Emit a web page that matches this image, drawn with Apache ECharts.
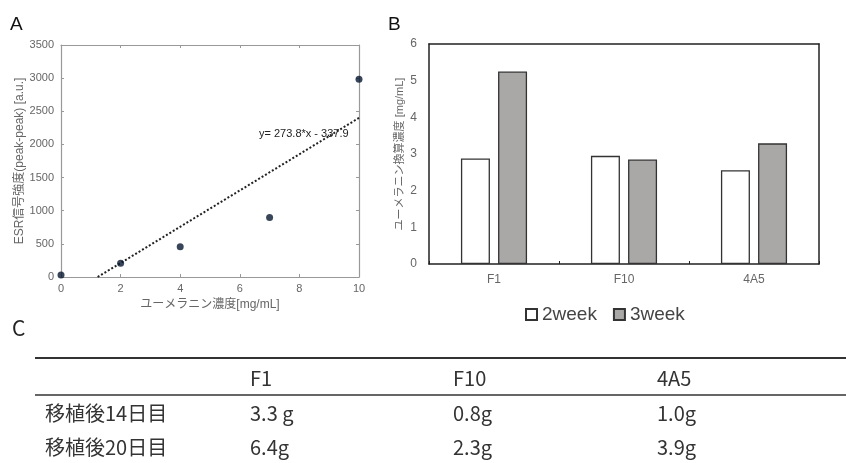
<!DOCTYPE html>
<html>
<head>
<meta charset="utf-8">
<script src="https://cdn.jsdelivr.net/npm/echarts@6/dist/echarts.min.js"></script>
<style>
  html, body { margin: 0; padding: 0; background: #fff; }
  #chart { width: 846px; height: 463px; }
</style>
</head>
<body>
<div id="chart"></div>
<script>
// ---- DATA ----
// A: ESR calibration
const concX = [0, 2, 4, 7, 10];
const esrY = [30, 206, 458, 896, 2985];
const trendX = [1.23, 10];
const trendY = [0, 2400];
const trendLabel = 'y= 273.8*x - 337.9';

// B: converted concentration
const strains = ['F1', 'F10', '4A5'];
const week2 = [2.88, 2.95, 2.56];
const week3 = [5.25, 2.85, 3.29];

// C: table
const tableCols = ['F1', 'F10', '4A5'];
const tableRows = ['移植後14日目', '移植後20日目'];
const tableVals = [
  ['3.3 g', '0.8g', '1.0g'],
  ['6.4g', '2.3g', '3.9g'],
];

// ---- STYLE ----
const FONT = '"Liberation Sans", "Noto Sans CJK JP", sans-serif';
const CJK = '"Noto Sans CJK JP", sans-serif';
const gray = '#666';
const frameA = '#999';
const plain = v => String(v);

const chart = echarts.init(document.getElementById('chart'), null, { renderer: 'canvas' });

// table graphics
const colX = [250, 453, 657];
const rowY = [413, 447];
const tableGraphics = [
  { type: 'line', shape: { x1: 35, y1: 358, x2: 846, y2: 358 }, style: { stroke: '#333', lineWidth: 2 } },
  { type: 'line', shape: { x1: 35, y1: 395, x2: 846, y2: 395 }, style: { stroke: '#333', lineWidth: 1.5 } },
];
tableCols.forEach((c, i) => {
  tableGraphics.push({ type: 'text', x: colX[i], y: 378,
    style: { text: c, font: '20px ' + CJK, fill: '#333', verticalAlign: 'middle' } });
});
tableRows.forEach((r, j) => {
  tableGraphics.push({ type: 'text', x: 45, y: rowY[j],
    style: { text: r, font: '20px ' + CJK, fill: '#333', verticalAlign: 'middle' } });
  tableVals[j].forEach((v, i) => {
    tableGraphics.push({ type: 'text', x: colX[i], y: rowY[j],
      style: { text: v, font: '20px ' + CJK, fill: '#333', verticalAlign: 'middle' } });
  });
});

const tickA = { show: true, inside: true, length: 3, lineStyle: { color: frameA } };
const lineA = { show: true, onZero: false, lineStyle: { color: frameA, width: 1.2 } };
const lineB = { show: true, onZero: false, lineStyle: { color: '#222', width: 1.5 } };

chart.setOption({
  animation: false,
  backgroundColor: '#fff',
  textStyle: { fontFamily: FONT },
  grid: [
    { left: 61, top: 45, width: 298, height: 232 },
    { left: 429, top: 44, width: 390, height: 220 },
  ],
  xAxis: [
    {
      gridIndex: 0, type: 'value', min: 0, max: 10, interval: 2,
      name: 'ユーメラニン濃度[mg/mL]', nameLocation: 'middle', nameGap: 16,
      nameTextStyle: { color: gray, fontSize: 12, fontFamily: FONT },
      axisLine: lineA, axisTick: tickA,
      axisLabel: { color: gray, fontSize: 11, margin: 6, formatter: plain },
      splitLine: { show: false },
    },
    {
      gridIndex: 0, type: 'value', min: 0, max: 10, interval: 2, position: 'top',
      axisLine: lineA, axisTick: tickA,
      axisLabel: { show: false }, splitLine: { show: false },
    },
    {
      gridIndex: 1, type: 'category', data: strains,
      axisLine: lineB,
      axisTick: { show: true, inside: true, length: 3, lineStyle: { color: '#222' } },
      axisLabel: { color: gray, fontSize: 12, margin: 10 },
    },
    {
      gridIndex: 1, type: 'category', data: strains, position: 'top',
      axisLine: lineB, axisTick: { show: false }, axisLabel: { show: false },
    },
  ],
  yAxis: [
    {
      gridIndex: 0, type: 'value', min: 0, max: 3500, interval: 500,
      name: 'ESR信号強度(peak-peak) [a.u.]', nameLocation: 'middle', nameGap: 25,
      nameTextStyle: { color: gray, fontSize: 12, fontFamily: FONT },
      axisLine: lineA, axisTick: tickA,
      axisLabel: { color: gray, fontSize: 11, margin: 7, formatter: plain },
      splitLine: { show: false },
    },
    {
      gridIndex: 0, type: 'value', min: 0, max: 3500, interval: 500, position: 'right',
      axisLine: lineA, axisTick: tickA,
      axisLabel: { show: false }, splitLine: { show: false },
    },
    {
      gridIndex: 1, type: 'value', min: 0, max: 6, interval: 1,
      name: 'ユーメラニン換算濃度 [mg/mL]', nameLocation: 'middle', nameGap: 24,
      nameTextStyle: { color: gray, fontSize: 11, fontFamily: FONT },
      axisLine: lineB, axisTick: { show: false },
      axisLabel: { color: gray, fontSize: 12, margin: 12 },
      splitLine: { show: false },
    },
    {
      gridIndex: 1, type: 'value', min: 0, max: 6, interval: 1, position: 'right',
      axisLine: lineB, axisTick: { show: false }, axisLabel: { show: false }, splitLine: { show: false },
    },
  ],
  legend: {
    left: 520, top: 300,
    itemWidth: 11, itemHeight: 11, itemGap: 16,
    icon: 'rect',
    textStyle: { fontSize: 19, color: '#444', fontFamily: FONT },
    data: ['2week', '3week'],
  },
  series: [
    {
      type: 'line', xAxisIndex: 0, yAxisIndex: 0,
      data: trendX.map((x, i) => [x, trendY[i]]),
      showSymbol: false, silent: true,
      lineStyle: { type: [2, 2], width: 2, color: '#222' },
      z: 2,
    },
    {
      type: 'scatter', xAxisIndex: 0, yAxisIndex: 0,
      data: concX.map((x, i) => [x, esrY[i]]),
      symbolSize: 7,
      itemStyle: { color: '#081830' },
      z: 3,
    },
    {
      name: '2week', type: 'bar', xAxisIndex: 2, yAxisIndex: 2,
      data: week2, barWidth: 29, barGap: '28%',
      itemStyle: { color: '#fff', borderColor: '#333', borderWidth: 1.3 },
    },
    {
      name: '3week', type: 'bar', xAxisIndex: 2, yAxisIndex: 2,
      data: week3, barWidth: 29, barGap: '28%',
      itemStyle: { color: '#aaa7a7', borderColor: '#333', borderWidth: 1.3 },
    },
  ],
  graphic: [
    { type: 'text', x: 10, y: 25, style: { text: 'A', font: '19px ' + FONT, fill: '#111', verticalAlign: 'middle' } },
    { type: 'text', x: 388, y: 25, style: { text: 'B', font: '19px ' + FONT, fill: '#111', verticalAlign: 'middle' } },
    { type: 'text', x: 12, y: 328, style: { text: 'C', font: '21px ' + CJK, fill: '#222', verticalAlign: 'middle' } },
    { type: 'text', x: 259, y: 134, style: { text: trendLabel, font: '11px ' + FONT, fill: '#222', verticalAlign: 'middle' } },
  ].concat(tableGraphics),
});
</script>
</body>
</html>
